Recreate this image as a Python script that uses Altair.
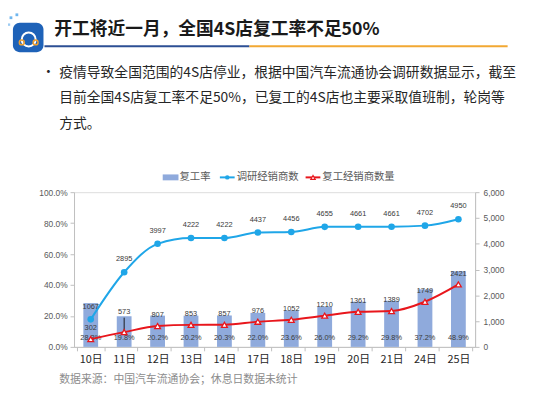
import altair as alt
import pandas as pd

days = ["10日", "11日", "12日", "13日", "14日", "17日", "18日", "19日", "20日", "21日", "24日", "25日"]
surveyed = [1067, 2895, 3997, 4222, 4222, 4437, 4456, 4655, 4661, 4661, 4702, 4950]
reopened = [302, 573, 807, 853, 857, 976, 1052, 1210, 1361, 1389, 1749, 2421]
rate = [0.283, 0.198, 0.202, 0.202, 0.203, 0.220, 0.236, 0.260, 0.292, 0.298, 0.372, 0.489]
rate_labels = ["28.3%", "19.8%", "20.2%", "20.2%", "20.3%", "22.0%", "23.6%", "26.0%", "29.2%", "29.8%", "37.2%", "48.9%"]
moved_label_day = "11日"

title_text = "开工将近一月，全国4S店复工率不足50%"
bullet_lines = [
    "疫情导致全国范围的4S店停业，根据中国汽车流通协会调研数据显示，截至",
    "目前全国4S店复工率不足50%，已复工的4S店也主要采取值班制，轮岗等",
    "方式。",
]
legend_names = ["复工率", "调研经销商数", "复工经销商数量"]
source_text = "数据来源：中国汽车流通协会；休息日数据未统计"
pct_ticks = [0, 0.2, 0.4, 0.6, 0.8, 1.0]
cnt_ticks = [0, 1000, 2000, 3000, 4000, 5000, 6000]

df = pd.DataFrame({"day": days, "surveyed": surveyed, "reopened": reopened,
                   "rate": rate, "rate_label": rate_labels})

CJK = "Noto Sans CJK SC"
NUM = "Liberation Sans"
BAR = "#8FAADC"
BLUE = "#1FA6E8"
RED = "#E8161C"
W, H = 407, 157

xenc = alt.X("day:N", sort=days, title=None,
             scale=alt.Scale(paddingInner=0.2, paddingOuter=0.1),
             axis=alt.Axis(labelFont=CJK, labelFontSize=11, labelColor="#262626",
                           labelAngle=0, domainColor="#BFBFBF", tickColor="#BFBFBF",
                           tickBand="extent", tickSize=4, labelPadding=3))

left_axis = alt.Axis(values=pct_ticks, format=".1%", labelFont=NUM, labelFontSize=8.5,
                     labelColor="#595959", domainColor="#BFBFBF", tickColor="#BFBFBF",
                     tickSize=4, grid=False, title=None, labelPadding=3)
right_axis = alt.Axis(values=cnt_ticks, format=",d", labelFont=NUM, labelFontSize=8.5,
                      labelColor="#595959", domainColor="#BFBFBF", tickColor="#BFBFBF",
                      tickSize=4, grid=False, title=None, orient="right", labelPadding=4)
lscale = alt.Scale(domain=[0, 1])
rscale = alt.Scale(domain=[0, 6000])

base = alt.Chart(df)

bars = base.mark_bar(size=15, color=BAR).encode(
    x=xenc, y=alt.Y("rate:Q", scale=lscale, axis=left_axis))
pct_text = base.mark_text(font=NUM, fontSize=7.5, color="#3A3A3A", baseline="middle").encode(
    x=xenc, y=alt.value(H - 9), text="rate_label:N")
left = alt.layer(bars, pct_text)

ry = alt.Y("reopened:Q", scale=rscale, axis=right_axis)
blue_line = base.mark_line(color=BLUE, strokeWidth=2, interpolate="monotone",
                           point=alt.OverlayMarkDef(color=BLUE, filled=True, size=45, opacity=1)).encode(
    x=xenc, y=alt.Y("surveyed:Q", scale=rscale, axis=right_axis))
blue_text = base.mark_text(font=NUM, fontSize=7.5, color="#3A3A3A", dy=-13).encode(
    x=xenc, y=alt.Y("surveyed:Q", scale=rscale, axis=right_axis), text="surveyed:Q")
red_text = base.transform_filter(alt.datum.day != moved_label_day).mark_text(
    font=NUM, fontSize=7.5, color="#3A3A3A", dy=-11).encode(
    x=xenc, y=ry, text="reopened:Q")
red_text_moved = base.transform_filter(alt.datum.day == moved_label_day).mark_text(
    font=NUM, fontSize=7.5, color="#3A3A3A", dy=-20).encode(
    x=xenc, y=ry, text="reopened:Q")
leader = base.transform_filter(alt.datum.day == moved_label_day).transform_calculate(
    top="datum.reopened + 560", bot="datum.reopened + 40").mark_rule(
    color="#1A1A1A", strokeWidth=1).encode(
    x=xenc, y=alt.Y("top:Q", scale=rscale, axis=right_axis), y2="bot:Q")
red_line = base.mark_line(color=RED, strokeWidth=2, interpolate="monotone",
                          point=alt.OverlayMarkDef(shape="triangle-up", filled=False, fill="white",
                                                   stroke=RED, strokeWidth=1.3, size=35, opacity=1)).encode(
    x=xenc, y=ry)
right = alt.layer(blue_line, blue_text, leader, red_line, red_text, red_text_moved)

one = pd.DataFrame({"a": [0]})


def deco_text(text, x, y, size, color, font=CJK, weight="normal", baseline="middle", lh=None):
    kw = dict(text=text, font=font, fontSize=size, color=color, fontWeight=weight,
              align="left", baseline=baseline)
    if lh is not None:
        kw["lineHeight"] = lh
    return alt.Chart(one).mark_text(**kw).encode(x=alt.value(x), y=alt.value(y))


def deco_rule(x1, x2, y, color, w=2):
    return alt.Chart(one).mark_rule(color=color, strokeWidth=w).encode(
        x=alt.value(x1), x2=alt.value(x2), y=alt.value(y))


def deco_point(x, y, shape, color, size, filled=True, sw=1.5):
    return alt.Chart(one).mark_point(shape=shape, filled=filled, color=color, size=size,
                                     strokeWidth=sw, opacity=1).encode(
        x=alt.value(x), y=alt.value(y))


deco = [
    # logo
    alt.Chart(one).mark_rect(color="#1E62B8", cornerRadius=7).encode(
        x=alt.value(-62), x2=alt.value(-31), y=alt.value(-172), y2=alt.value(-142)),
    deco_point(-64, -177, "square", "#6FB6EE", 8),
    deco_point(-58, -180, "square", "#6FB6EE", 8),
    deco_point(-66, -170, "square", "#9CCBF2", 6),
    deco_point(-46, -155, "circle", "white", 200, filled=False, sw=2),
    deco_point(-53, -152, "circle", "#F0A030", 25, filled=False),
    deco_point(-39, -152, "circle", "#F0A030", 25, filled=False),
    # title & underline
    deco_text(title_text, -20, -164, 18, "#1A1A1A", weight="bold"),
    deco_rule(-30, 178, -148, "#2C4F94"),
    deco_rule(178, 440, -148, "#F2A833"),
    # bullet
    deco_text("•", -33, -122, 14, "#262626"),
    deco_text(bullet_lines, -15, -117, 14, "#262626", baseline="alphabetic", lh=26),
    # legend
    alt.Chart(one).mark_rect(color=BAR).encode(
        x=alt.value(90), x2=alt.value(106), y=alt.value(-18), y2=alt.value(-12)),
    deco_text(legend_names[0], 107, -15, 10.5, "#595959"),
    deco_rule(148, 163, -15, BLUE, 2),
    deco_point(155.5, -15, "circle", BLUE, 20),
    deco_text(legend_names[1], 165, -15, 10.5, "#595959"),
    deco_rule(235, 250, -15, RED, 2),
    alt.Chart(one).mark_point(shape="triangle-up", filled=False, fill="white", stroke=RED,
                              size=20, opacity=1, strokeWidth=1.2).encode(
        x=alt.value(242.5), y=alt.value(-15)),
    deco_text(legend_names[2], 252, -15, 10.5, "#595959"),
    # source
    deco_text(source_text, -15, 191, 11, "#8C8C8C"),
]

chart = alt.layer(left, right, *deco).resolve_scale(y="independent").properties(
    width=W, height=H,
    autosize=alt.AutoSizeParams(type="none"),
    padding={"left": 67, "top": 184, "right": 76, "bottom": 50},
).configure_view(stroke=None).configure(background="white")

chart.save("out.html", embed_options={"renderer": "svg", "actions": False})
